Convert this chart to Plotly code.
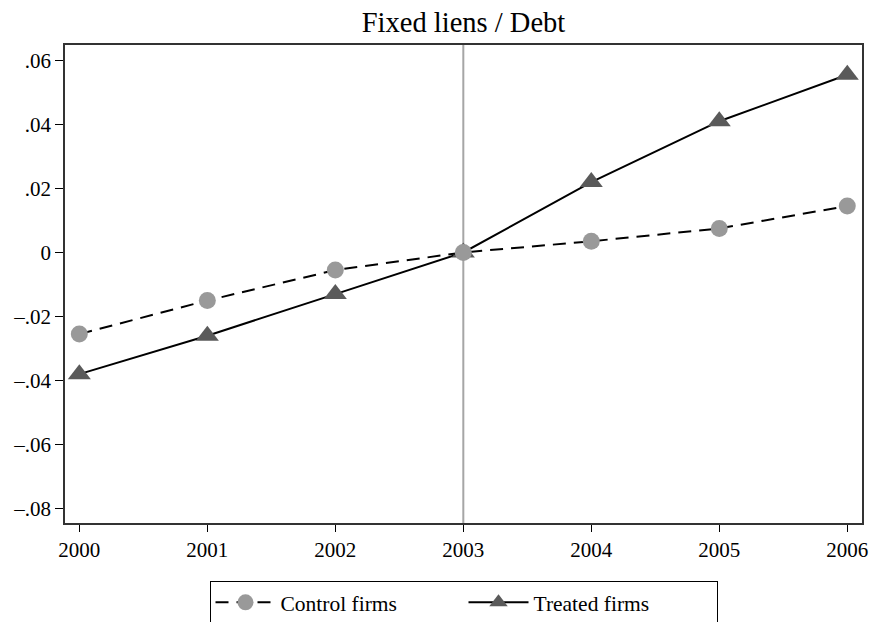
import plotly.graph_objects as go

years = [2000, 2001, 2002, 2003, 2004, 2005, 2006]
control = [-0.0255, -0.015, -0.0055, 0.0, 0.0035, 0.0075, 0.0145]
treated = [-0.038, -0.026, -0.013, 0.0, 0.022, 0.041, 0.0555]
ytick_vals = [0.06, 0.04, 0.02, 0.0, -0.02, -0.04, -0.06, -0.08]
ytick_text = [".06", ".04", ".02", "0", "\u2013.02", "\u2013.04", "\u2013.06", "\u2013.08"]
event_year = 2003

FONT = "Liberation Serif, Times New Roman, serif"

fig = go.Figure()
fig.add_trace(go.Scatter(
    x=years, y=treated, name="Treated firms", mode="lines+markers",
    line=dict(color="black", width=2),
    marker=dict(symbol="triangle-up", size=20, color="#5a5a5a"),
))
fig.add_trace(go.Scatter(
    x=years, y=control, name="Control firms", mode="lines+markers",
    line=dict(color="black", width=2, dash="13px,8px"),
    marker=dict(symbol="circle", size=17, color="#999999"),
))
fig.add_vline(x=event_year, line=dict(color="#a6a6a6", width=2), layer="below")

fig.update_layout(
    width=873, height=622,
    margin=dict(l=65, r=11, t=45, b=99, autoexpand=False),
    paper_bgcolor="white", plot_bgcolor="white",
    font=dict(family=FONT, size=21, color="black"),
    title=dict(text="Fixed liens / Debt", xref="paper", x=0.5, xanchor="center",
               yref="container", y=1 - 22 / 622, yanchor="middle",
               font=dict(family=FONT, size=28.5, color="black")),
    showlegend=True,
    legend=dict(orientation="h", x=0.5, xanchor="center", y=-0.121, yanchor="top",
                traceorder="reversed",
                bordercolor="black", borderwidth=1, bgcolor="white",
                font=dict(family=FONT, size=21.5, color="black"),
                entrywidth=178, entrywidthmode="pixels", itemwidth=60),
    xaxis=dict(range=[1999.888, 2006.115], tickvals=years, ticktext=[str(y) for y in years],
               showgrid=False, zeroline=False, showline=True, linecolor="#333333", linewidth=1.5,
               mirror=True, ticks="outside", ticklen=7, tickcolor="black", automargin=False,
               tickfont=dict(family=FONT, size=21)),
    yaxis=dict(range=[-0.0845, 0.0648], tickvals=ytick_vals, ticktext=ytick_text,
               showgrid=False, zeroline=False, showline=True, linecolor="#333333", linewidth=1.5,
               mirror=True, ticks="outside", ticklen=8, tickcolor="black", automargin=False,
               tickfont=dict(family=FONT, size=21)),
)

fig.write_html(
    "out.html",
    config={"displayModeBar": False},
    post_script="document.body.style.margin='0';document.body.style.overflow='hidden';",
)
